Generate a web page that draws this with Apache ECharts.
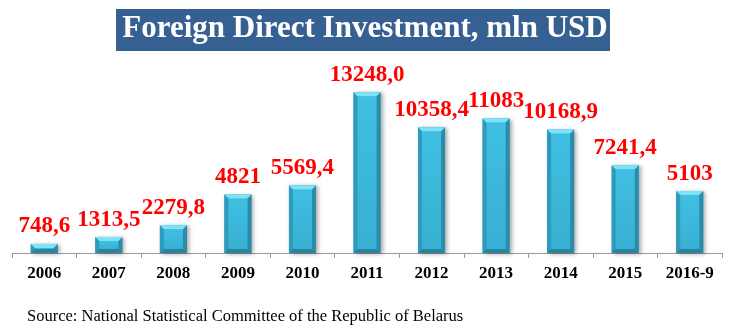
<!DOCTYPE html>
<html>
<head>
<meta charset="utf-8">
<script src="https://cdn.jsdelivr.net/npm/echarts@6/dist/echarts.min.js"></script>
<style>
  html, body { margin: 0; padding: 0; background: #fff; }
  #chart { width: 730px; height: 335px; }
</style>
</head>
<body>
<div id="chart"></div>
<script>
// Foreign direct investment into Belarus, mln USD
const years = ['2006', '2007', '2008', '2009', '2010', '2011', '2012', '2013', '2014', '2015', '2016-9'];
const valueLabels = ['748,6', '1313,5', '2279,8', '4821', '5569,4', '13248,0', '10358,4', '11083', '10168,9', '7241,4', '5103'];
const values = valueLabels.map(s => parseFloat(s.replace(',', '.')));

const titleText = 'Foreign Direct Investment, mln USD';
const sourceText = 'Source: National Statistical Committee of the Republic of Belarus';

const chart = echarts.init(document.getElementById('chart'), null, { renderer: 'canvas' });

const BAR_W = 27;
const BEVEL = 4;

// Bevelled 3D-looking column drawn from the axis scales
function renderBar(params, api) {
  const idx = api.value(0);
  const val = api.value(1);
  const top = api.coord([idx, val]);
  const base = api.coord([idx, 0]);
  const x0 = top[0] - BAR_W / 2;
  const x1 = top[0] + BAR_W / 2;
  const y0 = top[1];
  const y1 = base[1];
  const b = Math.min(BEVEL, (y1 - y0) / 2);
  return {
    type: 'group',
    children: [
      {
        type: 'rect',
        shape: { x: x0, y: y0, width: BAR_W, height: y1 - y0 },
        style: {
          fill: '#2e9fc2',
          shadowBlur: 4, shadowOffsetX: 2, shadowOffsetY: 1,
          shadowColor: 'rgba(0,0,0,0.35)'
        }
      },
      // left side
      {
        type: 'polygon',
        shape: { points: [[x0, y0], [x0 + b, y0 + b], [x0 + b, y1 - b], [x0, y1]] },
        style: { fill: '#2f9aba' }
      },
      // right side
      {
        type: 'polygon',
        shape: { points: [[x1, y0], [x1 - b, y0 + b], [x1 - b, y1 - b], [x1, y1]] },
        style: { fill: '#2b8caa' }
      },
      // bottom
      {
        type: 'polygon',
        shape: { points: [[x0, y1], [x0 + b, y1 - b], [x1 - b, y1 - b], [x1, y1]] },
        style: { fill: '#2a84a0' }
      },
      // face
      {
        type: 'rect',
        shape: { x: x0 + b, y: y0 + b, width: BAR_W - 2 * b, height: Math.max(0, y1 - y0 - 2 * b) },
        style: {
          fill: new echarts.graphic.LinearGradient(0, 0, 0, 1, [
            { offset: 0, color: '#40bfe2' },
            { offset: 1, color: '#37b0d3' }
          ])
        }
      },
      // top
      {
        type: 'polygon',
        shape: { points: [[x0, y0], [x1, y0], [x1 - b, y0 + b], [x0 + b, y0 + b]] },
        style: { fill: '#7fe3f7' }
      },
      // value label
      {
        type: 'text',
        style: {
          text: valueLabels[idx],
          x: top[0], y: y0 - 6,
          align: 'center', verticalAlign: 'bottom',
          fill: '#ff0000',
          font: 'bold 23px "Liberation Serif", "Times New Roman", serif'
        }
      }
    ]
  };
}

chart.setOption({
  animation: false,
  grid: { left: 12, right: 8, top: 71, bottom: 82 },
  xAxis: {
    type: 'category',
    data: years,
    axisLine: { show: true, lineStyle: { color: '#9a9a9a', width: 1 } },
    axisTick: { show: true, length: 5, lineStyle: { color: '#9a9a9a' } },
    axisLabel: {
      margin: 12,
      color: '#000',
      fontFamily: '"Liberation Serif", "Times New Roman", serif',
      fontWeight: 'bold',
      fontSize: 17
    }
  },
  yAxis: { type: 'value', min: 0, max: 15000, show: false, splitLine: { show: false } },
  series: [{
    type: 'custom',
    renderItem: renderBar,
    data: values.map((v, i) => [i, v]),
    clip: false
  }],
  graphic: [
    {
      type: 'rect',
      left: 116, top: 9,
      shape: { width: 494, height: 42 },
      style: { fill: '#376092' }
    },
    {
      type: 'text',
      left: 'center', top: 13,
      style: {
        text: titleText,
        fill: '#ffffff',
        font: 'bold 31px "Liberation Serif", "Times New Roman", serif'
      }
    },
    {
      type: 'text',
      left: 27, top: 308,
      style: {
        text: sourceText,
        fill: '#000',
        font: '16.5px "Liberation Serif", "Times New Roman", serif'
      }
    }
  ]
});
</script>
</body>
</html>
